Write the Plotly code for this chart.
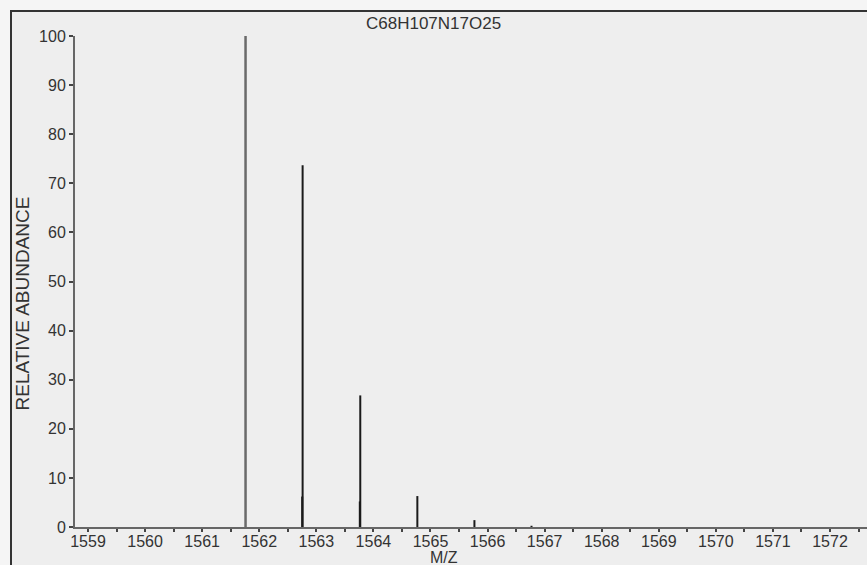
import plotly.graph_objects as go

# ---- data ----
title_text = "C68H107N17O25"
mz_main = [1561.76]
abund_main = [100.0]
mz_peaks = [1562.76, 1563.77, 1564.77, 1565.77, 1566.77]
abund_peaks = [73.7, 26.8, 6.3, 1.4, 0.25]
mz_fine = [1562.752, 1563.762]
abund_fine = [6.2, 5.2]
y_ticks = [0, 10, 20, 30, 40, 50, 60, 70, 80, 90, 100]
x_ticks = list(range(1559, 1573))


def sticks(xs, ys):
    sx, sy = [], []
    for x, y in zip(xs, ys):
        sx += [x, x, None]
        sy += [0, y, None]
    return sx, sy


W, H = 867, 565
L, R, T, B = 75, 0, 36, 38
pw, ph = W - L - R, H - T - B

fig = go.Figure()
x1, y1 = sticks(mz_main, abund_main)
fig.add_trace(go.Scatter(x=x1, y=y1, mode="lines",
                         line=dict(color="#6a6a6a", width=2.5), showlegend=False))
x2, y2 = sticks(mz_peaks, abund_peaks)
fig.add_trace(go.Scatter(x=x2, y=y2, mode="lines",
                         line=dict(color="#1a1a1a", width=2), showlegend=False))
x3, y3 = sticks(mz_fine, abund_fine)
fig.add_trace(go.Scatter(x=x3, y=y3, mode="lines",
                         line=dict(color="#1a1a1a", width=2), showlegend=False))

font_family = "Liberation Sans, Arial, sans-serif"

fig.update_layout(
    width=W, height=H,
    margin=dict(l=L, r=R, t=T, b=B, pad=0),
    paper_bgcolor="#f5f5f5",
    plot_bgcolor="rgba(0,0,0,0)",
    font=dict(family=font_family, color="#333333", size=16),
    shapes=[dict(type="rect", xref="paper", yref="paper",
                 x0=(11 - L) / pw, x1=1.1,
                 y0=-0.3, y1=1 + (T - 11) / ph,
                 fillcolor="#eeeeee", line=dict(color="#333333", width=2),
                 layer="below")],
    annotations=[
        dict(text=title_text, xref="paper", yref="paper",
             x=(433 - L) / pw, y=1 + (T - 23.5) / ph,
             xanchor="center", yanchor="middle", showarrow=False,
             font=dict(size=17, color="#333333")),
        dict(text="RELATIVE ABUNDANCE", xref="paper", yref="paper",
             x=(22 - L) / pw, y=(H - B - 303.5) / ph, textangle=-90,
             xanchor="center", yanchor="middle", showarrow=False,
             font=dict(size=19, color="#333333")),
        dict(text="M/Z", xref="paper", yref="paper",
             x=(444 - L) / pw, y=-(557 - (H - B)) / ph,
             xanchor="center", yanchor="middle", showarrow=False,
             font=dict(size=16, color="#333333")),
    ],
)

fig.update_xaxes(range=[1558.772, 1572.648], tickvals=x_ticks,
                 ticktext=[str(v) for v in x_ticks],
                 ticks="outside", ticklen=3, tickcolor="#444", tickwidth=1.5,
                 ticklabelstandoff=-4,
                 minor=dict(dtick=0.5, tick0=1558.5, ticks="outside", ticklen=3,
                            tickcolor="#444", tickwidth=1.5),
                 showline=True, linecolor="#666666", linewidth=2,
                 showgrid=False, zeroline=False,
                 tickfont=dict(size=16, color="#333333"))
fig.update_yaxes(range=[0, 100], tickvals=y_ticks,
                 ticks="outside", ticklen=4, tickcolor="#444", tickwidth=1.5,
                 showline=True, linecolor="#666666", linewidth=2,
                 showgrid=False, zeroline=False,
                 tickfont=dict(size=16, color="#333333"))

fig.write_html("out.html")
